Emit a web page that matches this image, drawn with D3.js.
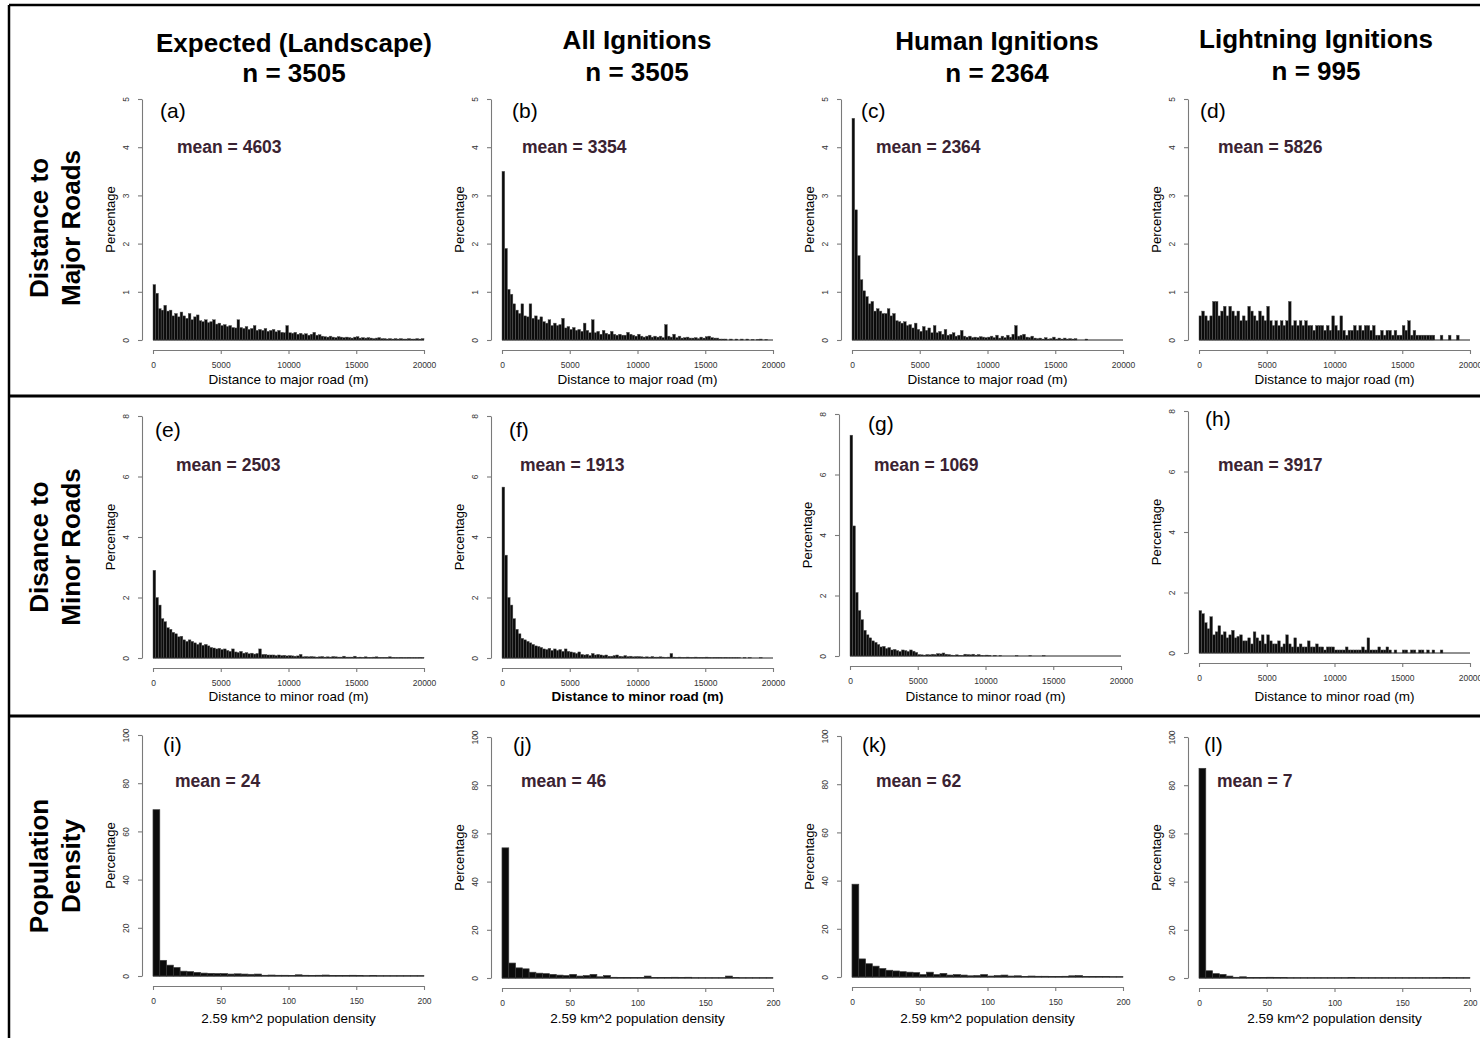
<!DOCTYPE html>
<html>
<head>
<meta charset="utf-8">
<script src="https://cdnjs.cloudflare.com/ajax/libs/d3/7.8.5/d3.min.js"></script>
<style>
  body { margin: 0; background: #fff; }
  svg { display: block; font-family: 'Liberation Sans', Arial, Helvetica, sans-serif; }
</style>
</head>
<body>
<svg id="chart" width="1480" height="1038"></svg>
<script>
// ---- data ----
var colTitles = ['Expected (Landscape)', 'All Ignitions', 'Human Ignitions', 'Lightning Ignitions'];
var colCounts = ['n = 3505', 'n = 3505', 'n = 2364', 'n = 995'];
var rowTitles = [['Distance to', 'Major Roads'], ['Disance to', 'Minor Roads'], ['Population', 'Density']];
var panelLetters = ['(a)', '(b)', '(c)', '(d)', '(e)', '(f)', '(g)', '(h)', '(i)', '(j)', '(k)', '(l)'];
var meanValues = [4603, 3354, 2364, 5826, 2503, 1913, 1069, 3917, 24, 46, 62, 7];
var xTitles = ['Distance to major road (m)', 'Distance to minor road (m)', '2.59 km^2 population density'];
var yTickValues = [[0, 1, 2, 3, 4, 5], [0, 2, 4, 6, 8], [0, 20, 40, 60, 80, 100]];
var distTicks = [0, 5000, 10000, 15000, 20000];
var popTicks = [0, 50, 100, 150, 200];
var distBinWidth = 200;
var popBinWidth = 5;

// percentage per 200 m bin, distance to major road
var majorExpected = [
  1.15, 0.97, 0.65, 0.62, 0.72, 0.6, 0.62, 0.5, 0.55, 0.48,
  0.58, 0.5, 0.45, 0.55, 0.42, 0.48, 0.52, 0.4, 0.38, 0.42,
  0.36, 0.38, 0.42, 0.33, 0.35, 0.3, 0.32, 0.28, 0.3, 0.26,
  0.25, 0.42, 0.26, 0.24, 0.28, 0.22, 0.24, 0.3, 0.2, 0.22,
  0.2, 0.24, 0.18, 0.2, 0.22, 0.17, 0.2, 0.16, 0.15, 0.3,
  0.15, 0.14, 0.16, 0.12, 0.14, 0.11, 0.13, 0.1, 0.12, 0.16,
  0.1, 0.11, 0.08, 0.07, 0.06, 0.08, 0.06, 0.05, 0.07, 0.06,
  0.05, 0.06, 0.05, 0.04, 0.06, 0.07, 0.04, 0.05, 0.04, 0.05,
  0.04, 0.03, 0.04, 0.05, 0.03, 0.03, 0.02, 0.03, 0.02, 0.03,
  0.02, 0.03, 0.02, 0.02, 0.03, 0.02, 0.02, 0.03, 0.02, 0.03
];
var majorAll = [
  3.5, 1.9, 1.05, 0.95, 0.75, 0.62, 0.55, 0.75, 0.5, 0.48,
  0.75, 0.45, 0.5, 0.42, 0.48, 0.38, 0.35, 0.42, 0.3, 0.35,
  0.3, 0.32, 0.45, 0.25, 0.28, 0.22, 0.26, 0.2, 0.22, 0.18,
  0.35, 0.2, 0.15, 0.42, 0.15, 0.18, 0.12, 0.2, 0.14, 0.12,
  0.18, 0.12, 0.1, 0.12, 0.1, 0.1, 0.16, 0.12, 0.1, 0.08,
  0.12, 0.08, 0.06, 0.08, 0.1, 0.06, 0.08, 0.06, 0.08, 0.05,
  0.32, 0.08, 0.06, 0.12, 0.05, 0.08, 0.04, 0.05, 0.06, 0.04,
  0.04, 0.05, 0.03, 0.06, 0.04, 0.07, 0.08, 0.05, 0.04, 0.04,
  0.02, 0.02, 0.02, 0, 0.02, 0, 0.02, 0, 0.02, 0,
  0.02, 0, 0.01, 0, 0.01, 0.02, 0, 0.01, 0, 0
];
var majorHuman = [
  4.6, 2.7, 1.75, 1.25, 1.02, 0.9, 0.75, 0.8, 0.6, 0.65,
  0.6, 0.55, 0.55, 0.65, 0.5, 0.55, 0.4, 0.38, 0.35, 0.38,
  0.3, 0.32, 0.25, 0.35, 0.22, 0.18, 0.28, 0.2, 0.25, 0.15,
  0.3, 0.15, 0.18, 0.12, 0.22, 0.1, 0.12, 0.15, 0.08, 0.1,
  0.2, 0.08, 0.06, 0.08, 0.05, 0.06, 0.05, 0.07, 0.06, 0.05,
  0.06, 0.08, 0.05, 0.1, 0.04, 0.08, 0.05, 0.1, 0.06, 0.12,
  0.3, 0.08, 0.1, 0.12, 0.06, 0.05, 0.08, 0.04, 0.03, 0.04,
  0.02, 0.05, 0.02, 0.03, 0.06, 0.02, 0.04, 0.02, 0.04, 0.02,
  0.03, 0.02, 0.03, 0, 0, 0, 0.02, 0, 0, 0,
  0, 0, 0, 0, 0, 0, 0, 0, 0, 0
];
var majorLightning = [
  0.5, 0.6, 0.5, 0.4, 0.5, 0.8, 0.8, 0.5, 0.6, 0.7,
  0.5, 0.7, 0.6, 0.5, 0.6, 0.4, 0.5, 0.4, 0.7, 0.6,
  0.5, 0.4, 0.6, 0.5, 0.4, 0.7, 0.4, 0.3, 0.4, 0.3,
  0.4, 0.3, 0.4, 0.8, 0.3, 0.4, 0.3, 0.4, 0.3, 0.4,
  0.3, 0.3, 0.2, 0.3, 0.3, 0.3, 0.2, 0.3, 0.2, 0.5,
  0.3, 0.2, 0.5, 0.2, 0.1, 0.2, 0.2, 0.3, 0.2, 0.3,
  0.2, 0.3, 0.3, 0.2, 0.3, 0.1, 0.1, 0.2, 0.1, 0.2,
  0.2, 0.1, 0.2, 0.1, 0.1, 0.3, 0.2, 0.4, 0.1, 0.2,
  0.1, 0.1, 0.1, 0.1, 0.1, 0.1, 0.1, 0, 0, 0.1,
  0, 0, 0.1, 0, 0, 0.1, 0, 0, 0, 0
];

// percentage per 200 m bin, distance to minor road
var minorExpected = [
  2.9, 2.0, 1.75, 1.3, 1.2, 1.0, 0.95, 0.85, 0.8, 0.7,
  0.72, 0.6, 0.55, 0.6, 0.55, 0.5, 0.45, 0.5, 0.42, 0.45,
  0.4, 0.35, 0.33, 0.3, 0.32, 0.28, 0.3, 0.25, 0.22, 0.3,
  0.2, 0.18, 0.22, 0.16, 0.18, 0.14, 0.16, 0.13, 0.15, 0.3,
  0.12, 0.12, 0.1, 0.1, 0.1, 0.08, 0.1, 0.08, 0.09, 0.07,
  0.08, 0.07, 0.06, 0.07, 0.12, 0.04, 0.05, 0.04, 0.05, 0.04,
  0.03, 0.04, 0.05, 0.03, 0.04, 0.03, 0.05, 0.04, 0.03, 0.03,
  0.06, 0.03, 0.03, 0.03, 0.06, 0.02, 0.03, 0.02, 0.04, 0.02,
  0.02, 0.03, 0.04, 0.02, 0.02, 0.02, 0.02, 0.04, 0.02, 0.01,
  0.01, 0.02, 0.01, 0.01, 0.02, 0.01, 0.01, 0.01, 0.02, 0.01
];
var minorAll = [
  5.65, 3.4, 2.0, 1.75, 1.3, 0.95, 0.8, 0.65, 0.6, 0.55,
  0.5, 0.45, 0.4, 0.38, 0.35, 0.3, 0.28, 0.32, 0.25, 0.3,
  0.25, 0.28, 0.22, 0.3, 0.22, 0.2, 0.18, 0.15, 0.2, 0.12,
  0.1, 0.12, 0.08, 0.15, 0.1, 0.12, 0.1, 0.08, 0.1, 0.06,
  0.06, 0.08, 0.1, 0.06, 0.05, 0.08, 0.05, 0.06, 0.04, 0.05,
  0.05, 0.04, 0.03, 0.04, 0.03, 0.05, 0.03, 0.03, 0.04, 0.03,
  0.02, 0.03, 0.15, 0.03, 0.02, 0.03, 0.02, 0.02, 0.03, 0.02,
  0.02, 0.03, 0.02, 0.02, 0.02, 0.03, 0.02, 0.01, 0.02, 0.02,
  0.02, 0.01, 0.02, 0.01, 0.01, 0.01, 0.01, 0.01, 0, 0.01,
  0, 0.01, 0, 0, 0, 0.01, 0, 0, 0, 0
];
var minorHuman = [
  7.3, 4.3, 2.1, 1.5, 1.2, 0.85, 0.7, 0.6, 0.5, 0.45,
  0.38, 0.3, 0.32, 0.25, 0.28, 0.2, 0.22, 0.18, 0.15, 0.2,
  0.18, 0.15, 0.2, 0.16, 0.12, 0.05, 0.04, 0.03, 0.05, 0.04,
  0.06, 0.05, 0.08, 0.07, 0.1, 0.06, 0.05, 0.03, 0.02, 0.04,
  0.02, 0.01, 0.06, 0.05, 0.04, 0.06, 0.03, 0.05, 0.02, 0.01,
  0.03, 0.02, 0, 0.02, 0, 0.01, 0, 0, 0, 0,
  0, 0.01, 0, 0, 0, 0, 0.01, 0, 0, 0,
  0, 0.01, 0, 0, 0, 0, 0, 0, 0, 0,
  0, 0, 0, 0, 0, 0, 0, 0, 0, 0,
  0, 0, 0, 0, 0, 0, 0, 0, 0, 0
];
var minorLightning = [
  1.4, 1.3, 1.0, 0.8, 1.2, 0.6, 0.7, 0.9, 0.6, 0.7,
  0.5, 0.6, 0.75, 0.5, 0.55, 0.6, 0.4, 0.4, 0.5, 0.3,
  0.7, 0.5, 0.4, 0.6, 0.3, 0.6, 0.4, 0.3, 0.3, 0.4,
  0.2, 0.3, 0.6, 0.3, 0.2, 0.5, 0.2, 0.3, 0.2, 0.2,
  0.4, 0.2, 0.2, 0.3, 0.2, 0.2, 0.1, 0.2, 0.2, 0.2,
  0.1, 0.1, 0.1, 0.1, 0.2, 0.1, 0.1, 0.1, 0.1, 0.1,
  0.2, 0.1, 0.5, 0.1, 0.1, 0.1, 0.2, 0.1, 0.1, 0.2,
  0.1, 0, 0.1, 0, 0, 0.1, 0.1, 0, 0.1, 0.1,
  0, 0.1, 0.1, 0, 0.1, 0, 0.1, 0, 0, 0.1,
  0, 0, 0, 0, 0, 0, 0, 0, 0, 0
];

// percentage per 5-unit bin, population density
var popExpected = [69, 6.5, 4.5, 3.5, 2, 1.8, 1.5, 1.2, 1.1, 1.0, 1.0, 0.8, 0.9, 0.8, 0.7, 0.8, 0.3, 0.4, 0.3, 0.3,
  0.2, 0.5, 0.3, 0.2, 0.3, 0.4, 0.2, 0.2, 0.2, 0.3, 0.2, 0.1, 0.2, 0.1, 0.1, 0.1, 0.1, 0.1, 0.1, 0.1];
var popAll = [54, 6.2, 4.2, 3.8, 2.4, 2.0, 1.8, 1.5, 1.2, 1.0, 1.5, 0.8, 1.0, 1.5, 0.5, 1.0, 0.3, 0.2, 0.2, 0.2,
  0.2, 0.8, 0.2, 0.2, 0.2, 0.3, 0.2, 0.3, 0.1, 0.1, 0.1, 0.1, 0.1, 0.8, 0.2, 0.1, 0.1, 0.1, 0.1, 0.1];
var popHuman = [38.5, 7.5, 5.5, 4.5, 3.5, 2.8, 2.5, 2.2, 2.0, 1.8, 1.0, 2.0, 1.0, 1.5, 0.8, 1.0, 0.8, 0.5, 0.6, 1.0,
  0.4, 0.6, 0.8, 0.4, 0.5, 0.2, 0.4, 0.3, 0.3, 0.2, 0.2, 0.3, 0.5, 0.6, 0.2, 0.2, 0.2, 0.2, 0.1, 0.1];
var popLightning = [87, 3, 1.8, 1.5, 0.8, 0.3, 0.5, 0.2, 0.2, 0.2, 0.3, 0.2, 0.2, 0.1, 0.1, 0.1, 0.1, 0.1, 0.1, 0.1,
  0.1, 0.1, 0.2, 0.1, 0.1, 0.1, 0.1, 0.1, 0.1, 0.1, 0.1, 0.1, 0.1, 0.1, 0.1, 0.1, 0.2, 0.1, 0.1, 0.1];

var rowSeries = [
  [majorExpected, majorAll, majorHuman, majorLightning],
  [minorExpected, minorAll, minorHuman, minorLightning],
  [popExpected, popAll, popHuman, popLightning]
];

// ---- layout ----
var W = 1480, H = 1038;
var plotW = 271;
var plotH = [241, 242, 241];
var panelX0 = [[153, 502, 852, 1199], [153, 502, 850, 1199], [153, 502, 852, 1199]];
var panelY0 = [[340, 340, 340, 340], [658, 658, 656, 653], [976, 978, 977, 978]];
var letterX = [[160, 512, 861, 1200], [155, 509, 868, 1205], [163, 513, 862, 1204]];
var letterY = [[118, 118, 118, 118], [437, 437, 431, 426], [752, 752, 752, 752]];
var meanX = [[177, 522, 876, 1218], [176, 520, 874, 1218], [175, 521, 876, 1217]];
var meanY = [153, 471, 787];
var xTitleY = [384, 701, 1023];
var headX = [294, 637, 997, 1316];
var headY1 = [52, 49, 50, 48];
var headY2 = [82, 81, 82, 80];
var rowLabelY = [228, 547, 866];

var svg = d3.select('#chart');
svg.append('rect').attr('width', W).attr('height', H).attr('fill', '#fff');

// frame
var frame = svg.append('g').attr('stroke', '#000').attr('fill', 'none');
frame.append('line').attr('x1', 9).attr('x2', W).attr('y1', 5).attr('y2', 5).attr('stroke-width', 2.5);
frame.append('line').attr('x1', 9).attr('x2', 9).attr('y1', 5).attr('y2', H).attr('stroke-width', 2.5);
[396, 716].forEach(function (y) {
  frame.append('line').attr('x1', 9).attr('x2', W).attr('y1', y).attr('y2', y).attr('stroke-width', 3);
});

// column headers
colTitles.forEach(function (t, i) {
  var g = svg.append('g').attr('font-weight', 'bold').attr('font-size', 26).attr('text-anchor', 'middle');
  g.append('text').attr('x', headX[i]).attr('y', headY1[i]).text(t);
  g.append('text').attr('x', headX[i]).attr('y', headY2[i]).text(colCounts[i]);
});

// row headers
rowTitles.forEach(function (lines, r) {
  lines.forEach(function (t, k) {
    svg.append('text')
      .attr('transform', 'translate(' + (39 + k * 32) + ',' + rowLabelY[r] + ') rotate(-90)')
      .attr('text-anchor', 'middle')
      .attr('dominant-baseline', 'central')
      .attr('font-weight', 'bold')
      .attr('font-size', 26)
      .text(t);
  });
});

function drawPanel(r, c) {
  var values = rowSeries[r][c];
  var isPop = r === 2;
  var binW = isPop ? popBinWidth : distBinWidth;
  var xMax = isPop ? 200 : 20000;
  var yTicks = yTickValues[r];
  var x0 = panelX0[r][c], y0 = panelY0[r][c];

  var x = d3.scaleLinear().domain([0, xMax]).range([x0, x0 + plotW]);
  var y = d3.scaleLinear().domain([0, yTicks[yTicks.length - 1]]).range([y0, y0 - plotH[r]]);

  var g = svg.append('g').attr('class', 'panel');

  g.append('g').selectAll('rect')
    .data(values)
    .join('rect')
    .attr('x', function (d, i) { return x(i * binW); })
    .attr('width', x(binW) - x(0))
    .attr('y', function (d) { return y(d); })
    .attr('height', function (d) { return y0 - y(d); })
    .attr('fill', '#0b0b0b')
    .attr('stroke', isPop ? '#3a3a3a' : '#5a5a5a')
    .attr('stroke-width', isPop ? 0.7 : 0.45);

  // baseline of the histogram
  g.append('line')
    .attr('x1', x(0)).attr('x2', x(xMax))
    .attr('y1', y0).attr('y2', y0)
    .attr('stroke', '#222').attr('stroke-width', 1);

  var xAxis = g.append('g')
    .attr('transform', 'translate(0,' + (y0 + 10) + ')')
    .call(d3.axisBottom(x)
      .tickValues(isPop ? popTicks : distTicks)
      .tickFormat(d3.format('d'))
      .tickSize(4).tickSizeOuter(0).tickPadding(8));

  var yAxis = g.append('g')
    .attr('transform', 'translate(' + (x0 - 11) + ',0)')
    .call(d3.axisLeft(y).tickValues(yTicks).tickFormat(d3.format('d')).tickSize(4).tickSizeOuter(0));

  [xAxis, yAxis].forEach(function (a) {
    a.select('.domain').attr('stroke', '#7a7a7a').attr('stroke-width', 1.1);
    a.selectAll('.tick line').attr('stroke', '#7a7a7a').attr('stroke-width', 1.1);
    a.selectAll('.tick text').attr('fill', '#333').attr('font-size', 8.5)
      .attr('font-family', "'Liberation Sans', Arial, sans-serif");
  });
  yAxis.selectAll('.tick text')
    .attr('x', 0).attr('y', 0).attr('dy', 0)
    .attr('text-anchor', 'middle')
    .attr('transform', 'translate(-13,0) rotate(-90)');

  // x title
  g.append('text')
    .attr('x', x0 + plotW / 2)
    .attr('y', xTitleY[r])
    .attr('text-anchor', 'middle')
    .attr('font-size', 13.5)
    .attr('font-weight', (r === 1 && c === 1) ? 'bold' : 'normal')
    .text(xTitles[r]);

  // y title
  g.append('text')
    .attr('transform', 'translate(' + (x0 - 43) + ',' + (y0 - plotH[r] / 2) + ') rotate(-90)')
    .attr('text-anchor', 'middle')
    .attr('dominant-baseline', 'central')
    .attr('font-size', 13)
    .text('Percentage');

  g.append('text')
    .attr('x', letterX[r][c]).attr('y', letterY[r][c])
    .attr('font-size', 21)
    .text(panelLetters[r * 4 + c]);

  g.append('text')
    .attr('x', meanX[r][c]).attr('y', meanY[r])
    .attr('font-size', 17.5)
    .attr('font-weight', 'bold')
    .attr('fill', '#3a2332')
    .text('mean = ' + meanValues[r * 4 + c]);
}

for (var r = 0; r < 3; r++) {
  for (var c = 0; c < 4; c++) drawPanel(r, c);
}
</script>
</body>
</html>
